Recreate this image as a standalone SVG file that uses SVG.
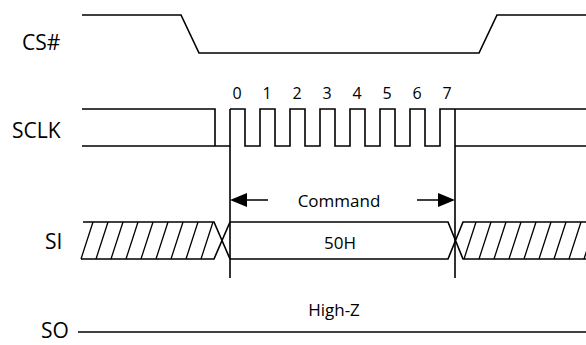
<svg xmlns="http://www.w3.org/2000/svg" width="586" height="345" viewBox="0 0 586 345">
<style>
.w{fill:none;stroke:#000;stroke-width:1.6;stroke-linejoin:miter}
.h{fill:none;stroke:#000;stroke-width:1.3}
.lbl{font-family:"Open Sans","DejaVu Sans",sans-serif;font-size:21px;fill:#000}
.t{font-family:"Open Sans","DejaVu Sans",sans-serif;font-size:17px;fill:#000}
.d{font-family:"Open Sans","DejaVu Sans",sans-serif;font-size:16px;fill:#000;text-anchor:middle}
</style>
<defs>
<g id="hatch">
<path class="h" d="M0,259 L12,222 M15,259 L27,222 M30,259 L42,222 M45,259 L57,222 M60,259 L72,222 M75,259 L87,222 M90,259 L102,222 M105,259 L117,222 M120,259 L132,222"/>
</g>
</defs>
<rect width="586" height="345" fill="#fff"/>
<g id="cs">
<text class="lbl" x="22" y="50">CS#</text>
<path class="w" d="M82,15 H181 L199,53 H479 L497,15 H586"/>
</g>
<g id="sclk">
<text class="lbl" x="12" y="138">SCLK</text>
<path class="w" d="M82,109 H215 V146 M82,146 H230"/>
<path class="w" d="M230,109 H245 V146 H260 V109 H275 V146 H290 V109 H305 V146 H320 V109 H335 V146 H350 V109 H365 V146 H380 V109 H395 V146 H410 V109 H425 V146 H440 V109 H586 M455,146 H586"/>
<text class="d" x="237" y="99">0</text>
<text class="d" x="267" y="99">1</text>
<text class="d" x="297" y="99">2</text>
<text class="d" x="327" y="99">3</text>
<text class="d" x="357" y="99">4</text>
<text class="d" x="387" y="99">5</text>
<text class="d" x="417" y="99">6</text>
<text class="d" x="447" y="99">7</text>
</g>
<g id="si">
<text class="lbl" x="45" y="249">SI</text>
<path class="w" d="M83,222 H214 L230,259 M81,259 H214 L230,222"/>
<use href="#hatch" x="81"/>
<path class="w" d="M230,222 H448 L463,259 H586 M230,259 H448 L463,222 H586"/>
<use href="#hatch" x="464"/>
<text class="t" x="340" y="249" text-anchor="middle">50H</text>
</g>
<g id="so">
<text class="lbl" x="41" y="338">SO</text>
<path class="w" d="M78,332 H586"/>
<text class="t" x="334" y="316" text-anchor="middle">High-Z</text>
</g>
<g id="connectors">
<path class="w" d="M230,109 V278 M455,109 V278"/>
<path class="w" d="M245,200 H268 M417,200 H440"/>
<polygon points="230,200 247,193 247,207" fill="#000"/>
<polygon points="455,200 438,193 438,207" fill="#000"/>
<text class="t" x="339" y="207" text-anchor="middle">Command</text>
</g>
</svg>
